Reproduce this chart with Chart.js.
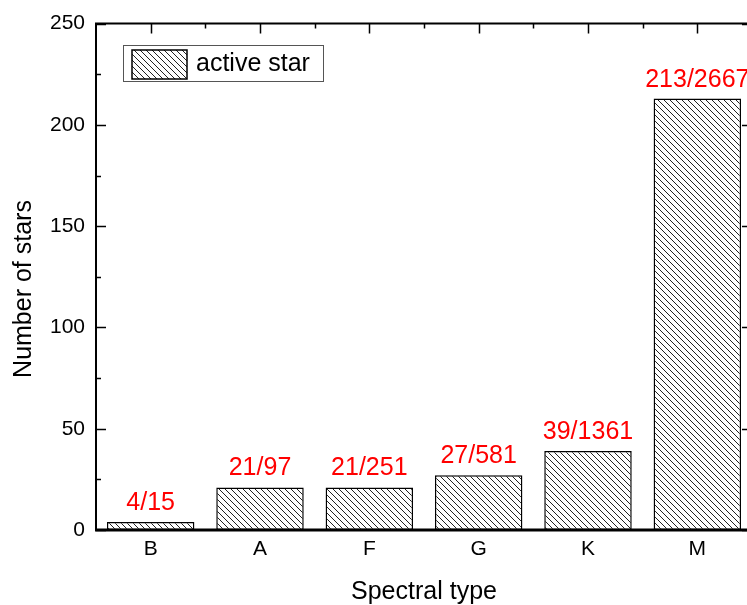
<!DOCTYPE html>
<html>
<head>
<meta charset="utf-8">
<script src="https://cdn.jsdelivr.net/npm/chart.js@4/dist/chart.umd.min.js"></script>
<style>
  html, body { margin: 0; padding: 0; background: #fff; overflow: hidden; }
  #wrap { width: 762px; height: 605px; }
</style>
</head>
<body>
<div id="wrap"><canvas id="c" width="762" height="605"></canvas></div>
<script>
// Spectral classes and star counts
const spectralTypes = ['B', 'A', 'F', 'G', 'K', 'M'];
const activeStars = [4, 21, 21, 27, 39, 213];
const totalStars = [15, 97, 251, 581, 1361, 2667];
const yTicks = [0, 50, 100, 150, 200, 250];
const yMinorTicks = [25, 75, 125, 175, 225];

const FONT = '"Liberation Sans", Arial, sans-serif';

// Diagonal hatch fill ("\\\\")
function makeHatch() {
  const s = 6;
  const c = document.createElement('canvas');
  c.width = s; c.height = s;
  const g = c.getContext('2d');
  g.fillStyle = '#fff';
  g.fillRect(0, 0, s, s);
  g.strokeStyle = '#222';
  g.lineWidth = 1;
  g.beginPath();
  g.moveTo(-1, -1); g.lineTo(s + 1, s + 1);
  g.moveTo(-1, s - 1); g.lineTo(1, s + 1);
  g.moveTo(s - 1, -1); g.lineTo(s + 1, 1);
  g.stroke();
  return g.createPattern(c, 'repeat');
}
const hatch = makeHatch();

// Frame, inward ticks, value labels, axis titles and legend
const decorations = {
  id: 'decorations',
  afterDatasetsDraw(chart) {
    const ctx = chart.ctx;
    const x = chart.scales.x, y = chart.scales.y;
    const L = chart.chartArea.left, R = chart.chartArea.right;
    const T = chart.chartArea.top, B = chart.chartArea.bottom;
    ctx.save();

    // value labels above bars
    const meta = chart.getDatasetMeta(0);
    ctx.fillStyle = '#ff0000';
    ctx.font = '25px ' + FONT;
    ctx.textAlign = 'center';
    ctx.textBaseline = 'alphabetic';
    meta.data.forEach((bar, i) => {
      ctx.fillText(activeStars[i] + '/' + totalStars[i], bar.x, bar.y - 12);
    });

    // axis ticks
    ctx.strokeStyle = '#000';
    ctx.lineWidth = 1.5;
    ctx.beginPath();
    yTicks.forEach(v => {
      const py = Math.round(y.getPixelForValue(v)) + 0.5;
      ctx.moveTo(L, py); ctx.lineTo(L + 10, py);
      ctx.moveTo(R, py); ctx.lineTo(R - 10, py);
    });
    yMinorTicks.forEach(v => {
      const py = Math.round(y.getPixelForValue(v)) + 0.5;
      ctx.moveTo(L, py); ctx.lineTo(L + 5, py);
      ctx.moveTo(R, py); ctx.lineTo(R - 5, py);
    });
    spectralTypes.forEach((t, i) => {
      const px = Math.round(x.getPixelForValue(i)) + 0.5;
      ctx.moveTo(px, T); ctx.lineTo(px, T + 10);
      if (i > 0) {
        const pb = Math.round(x.getPixelForValue(i - 0.5)) + 0.5;
        ctx.moveTo(pb, T); ctx.lineTo(pb, T + 5);
      }
    });
    ctx.stroke();

    // frame
    ctx.lineWidth = 2;
    ctx.beginPath();
    ctx.moveTo(L, T); ctx.lineTo(L, B);
    ctx.moveTo(L - 1, T); ctx.lineTo(R + 1, T);
    ctx.moveTo(R, T); ctx.lineTo(R, B);
    ctx.stroke();
    ctx.lineWidth = 3;
    ctx.beginPath();
    ctx.moveTo(L - 1, B); ctx.lineTo(R + 1, B);
    ctx.stroke();

    // axis titles
    ctx.fillStyle = '#000';
    ctx.font = '25px ' + FONT;
    ctx.textAlign = 'center';
    ctx.textBaseline = 'middle';
    ctx.fillText('Spectral type', (L + R) / 2, 592);
    ctx.save();
    ctx.translate(24, 289);
    ctx.rotate(-Math.PI / 2);
    ctx.fillText('Number of stars', 0, 0);
    ctx.restore();

    // legend
    ctx.lineWidth = 1;
    ctx.strokeStyle = '#555';
    ctx.fillStyle = '#fff';
    ctx.fillRect(123.5, 45.5, 200, 36);
    ctx.strokeRect(123.5, 45.5, 200, 36);
    ctx.fillStyle = hatch;
    ctx.fillRect(132, 50, 55, 29);
    ctx.lineWidth = 1.5;
    ctx.strokeStyle = '#000';
    ctx.strokeRect(132, 50, 55, 29);
    ctx.fillStyle = '#000';
    ctx.textAlign = 'left';
    ctx.textBaseline = 'middle';
    ctx.fillText(chart.data.datasets[0].label, 196, 64);

    ctx.restore();
  }
};

new Chart(document.getElementById('c'), {
  type: 'bar',
  data: {
    labels: spectralTypes,
    datasets: [{
      label: 'active star',
      data: activeStars,
      backgroundColor: hatch,
      borderColor: '#000',
      borderWidth: 1.5,
      borderSkipped: false,
      categoryPercentage: 1.0,
      barPercentage: 0.8
    }]
  },
  options: {
    responsive: false,
    animation: false,
    devicePixelRatio: 1,
    layout: { padding: { top: 20, right: 10, left: 0, bottom: 0 } },
    plugins: {
      legend: { display: false },
      tooltip: { enabled: false }
    },
    scales: {
      x: {
        grid: { display: false, drawTicks: false },
        border: { display: false },
        ticks: { color: '#000', font: { family: FONT, size: 21 }, padding: 7 },
        afterFit(scale) { scale.height = 75; }
      },
      y: {
        min: 0,
        max: 250,
        grid: { display: false, drawTicks: false },
        border: { display: false },
        ticks: {
          stepSize: 50,
          color: '#000',
          font: { family: FONT, size: 21 },
          padding: 11
        },
        afterFit(scale) { scale.width = 96; }
      }
    }
  },
  plugins: [decorations]
});
</script>
</body>
</html>
